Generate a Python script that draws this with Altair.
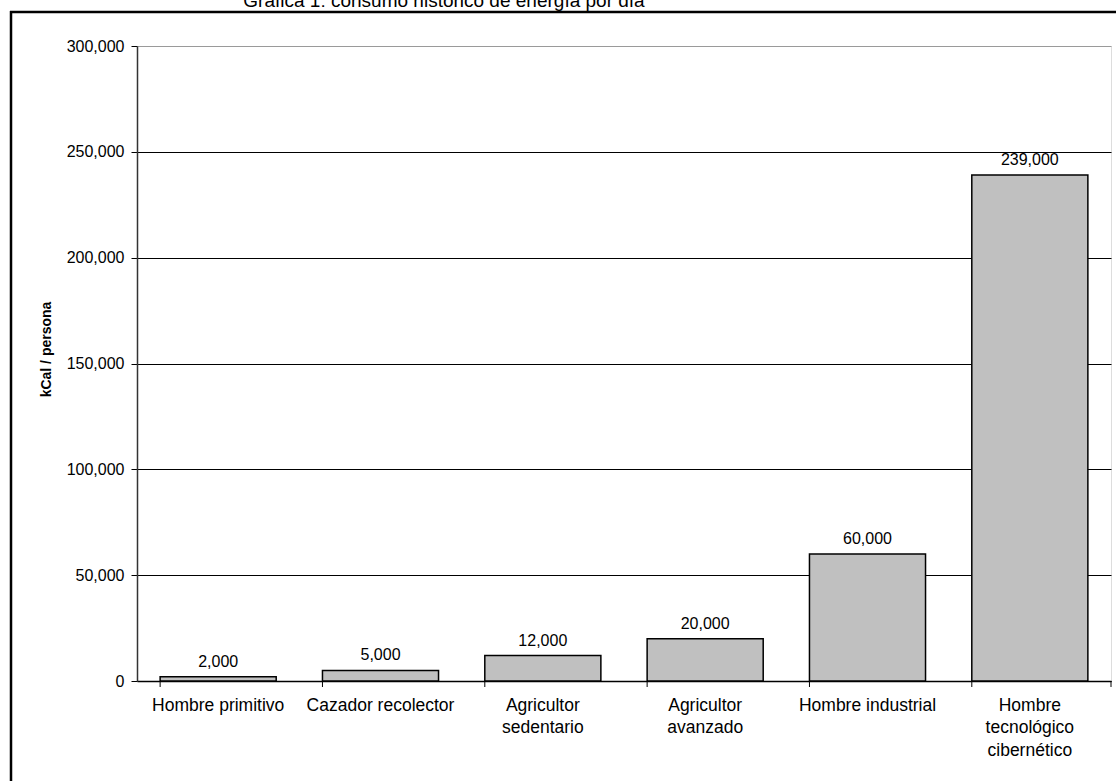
import altair as alt
import pandas as pd

# ---- data ----
categories = [
    "Hombre primitivo",
    "Cazador recolector",
    "Agricultor|sedentario",
    "Agricultor|avanzado",
    "Hombre industrial",
    "Hombre|tecnológico|cibernético",
]
values = [2000, 5000, 12000, 20000, 60000, 239000]
y_ticks = [0, 50000, 100000, 150000, 200000, 250000, 300000]
title_text = "Gráfica 1: consumo histórico de energía por día"
y_title = "kCal / persona"

df = pd.DataFrame({"cat": categories, "val": values})
one = pd.DataFrame({"k": [0]})

W, H = 974, 635
PAD_L, PAD_T = 137, 46
FONT = "Liberation Sans"

xscale = alt.Scale(domain=categories, paddingInner=0.285, paddingOuter=0.1425)
yscale = alt.Scale(domain=[0, 300000], nice=False)

x_enc = alt.X(
    "cat:N",
    scale=xscale,
    sort=categories,
    axis=alt.Axis(
        title=None,
        labelExpr="split(datum.value, '|')",
        labelAngle=0,
        labelFont=FONT,
        labelFontSize=17.5,
        labelLineHeight=22.5,
        labelPadding=15,
        labelColor="#000000",
        labelBaseline="top",
        ticks=False,
        domainColor="#000000",
        domainWidth=1.5,
    ),
)
y_enc = alt.Y(
    "val:Q",
    scale=yscale,
    axis=alt.Axis(
        title=y_title,
        values=y_ticks,
        format=",d",
        labelFont=FONT,
        labelFontSize=16,
        labelColor="#000000",
        labelPadding=7,
        tickSize=6,
        tickColor="#000000",
        domainColor="#333333",
        domainWidth=1.5,
        grid=True,
        gridColor={"condition": {"test": "datum.value >= 300000", "value": "#9a9a9a"}, "value": "#000000"},
        gridWidth=1,
        titleFont=FONT,
        titleFontSize=14,
        titleFontWeight="bold",
        titleColor="#000000",
        titlePadding=13,
        titleY=303,
    ),
)

base = alt.Chart(df)

bars = base.mark_bar(fill="#C0C0C0", stroke="#000000", strokeWidth=1.5).encode(x=x_enc, y=y_enc)

labels = base.mark_text(baseline="alphabetic", dy=-10, fontSize=16, font=FONT, color="#000000").encode(
    x=alt.X("cat:N", sort=categories),
    y=alt.Y("val:Q"),
    text=alt.Text("val:Q", format=",d"),
)

xticks = base.mark_rule(color="#000000", strokeWidth=1).encode(
    x=alt.X("cat:N", sort=categories, bandPosition=0),
    y=alt.value(H),
    y2=alt.value(H + 6),
)
last_tick = alt.Chart(one).mark_rule(color="#000000", strokeWidth=1).encode(
    x=alt.value(W), y=alt.value(H), y2=alt.value(H + 6)
)

# outer frame (top and left edges)
frame_top = alt.Chart(one).mark_rule(color="#000000", strokeWidth=2.5).encode(
    x=alt.value(10 - PAD_L), x2=alt.value(1116 - PAD_L), y=alt.value(12 - PAD_T)
)
frame_left = alt.Chart(one).mark_rule(color="#000000", strokeWidth=2.5).encode(
    x=alt.value(11 - PAD_L), y=alt.value(11 - PAD_T), y2=alt.value(781 - PAD_T)
)

title = alt.Chart(one).mark_text(
    fontSize=19, font=FONT, color="#000000", baseline="alphabetic", align="center"
).encode(
    x=alt.value(444 - PAD_L), y=alt.value(7 - PAD_T), text=alt.value(title_text)
)

chart = (
    alt.layer(frame_top, frame_left, title, bars, labels, xticks, last_tick)
    .properties(
        width=W,
        height=H,
        autosize=alt.AutoSizeParams(type="none"),
        padding={"left": PAD_L, "top": PAD_T, "right": 1116 - PAD_L - W, "bottom": 781 - PAD_T - H},
        background="#ffffff",
    )
    .configure_view(stroke="#9a9a9a", strokeWidth=1.5)
    .configure(font=FONT)
)

chart.save("out.html", embed_options={"renderer": "svg", "actions": False})
